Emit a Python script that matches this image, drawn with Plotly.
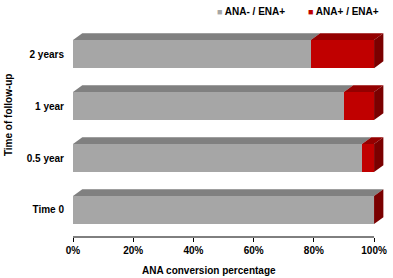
import plotly.graph_objects as go

# ---- data ----
categories = ["Time 0", "0.5 year", "1 year", "2 years"]
ana_neg_ena_pos = [100, 96, 90, 79]   # ANA- / ENA+ (%)
ana_pos_ena_pos = [0, 4, 10, 21]      # ANA+ / ENA+ (%)
series_names = ["ANA- / ENA+", "ANA+ / ENA+"]
x_tick_vals = [0, 20, 40, 60, 80, 100]
x_tick_text = ["0%", "20%", "40%", "60%", "80%", "100%"]

# ---- styling ----
front_colors = ["#A6A6A6", "#C00000"]
top_colors = ["#808080", "#940000"]
side_color = "#7A0000"
bar_h = 0.54      # bar thickness (y units)
dx = 3.09         # 3D depth in x units
dy = 0.13         # 3D depth in y units
FONT = "Liberation Sans, Arial, sans-serif"

positions = list(range(len(categories)))
series = [ana_neg_ena_pos, ana_pos_ena_pos]

fig = go.Figure()

# top faces (parallelograms) built from the data
cum = [0] * len(categories)
for s, vals in enumerate(series):
    xs, ys = [], []
    for i, v in enumerate(vals):
        x0 = cum[i]
        x1 = cum[i] + v
        yt = positions[i] + bar_h / 2
        xs += [x0, x1, x1 + dx, x0 + dx, x0, None]
        ys += [yt, yt, yt + dy, yt + dy, yt, None]
    fig.add_trace(go.Scatter(x=xs, y=ys, mode="lines", fill="toself",
                             fillcolor=top_colors[s], line=dict(width=0),
                             hoverinfo="skip", showlegend=False))
    cum = [c + v for c, v in zip(cum, vals)]

# right side faces
xs, ys = [], []
for i, tot in enumerate(cum):
    yb = positions[i] - bar_h / 2
    yt = positions[i] + bar_h / 2
    xs += [tot, tot + dx, tot + dx, tot, tot, None]
    ys += [yb, yb + dy, yt + dy, yt, yb, None]
fig.add_trace(go.Scatter(x=xs, y=ys, mode="lines", fill="toself",
                         fillcolor=side_color, line=dict(width=0),
                         hoverinfo="skip", showlegend=False))

# front faces
for s, vals in enumerate(series):
    fig.add_trace(go.Bar(y=positions, x=vals, orientation="h", width=bar_h,
                         name=series_names[s], marker=dict(color=front_colors[s], line=dict(width=0)),
                         showlegend=False))

# x axis line (only 0–100%)
fig.add_shape(type="line", xref="x", yref="paper", x0=0, x1=100, y0=0, y1=0,
              line=dict(color="#000000", width=1))

# legend as annotations
legend_x = [0.4566, 0.749]
for s, name in enumerate(series_names):
    fig.add_annotation(xref="paper", yref="paper", x=legend_x[s], y=1.066,
                       xanchor="left", yanchor="middle", showarrow=False,
                       text=f"<span style='color:{front_colors[s]};font-size:9px'>■</span> {name}",
                       font=dict(family=FONT, size=10, color="#000000", weight="bold"))

# axis titles
fig.add_annotation(xref="paper", yref="paper", x=-0.209, y=0.575, textangle=-90,
                   xanchor="center", yanchor="middle", showarrow=False,
                   text="Time of follow-up",
                   font=dict(family=FONT, size=10, color="#000000", weight="bold"))
fig.add_annotation(xref="paper", yref="paper", x=0.437, y=-0.160,
                   xanchor="center", yanchor="middle", showarrow=False,
                   text="ANA conversion percentage",
                   font=dict(family=FONT, size=10, color="#000000", weight="bold"))

fig.update_layout(
    width=393, height=278,
    margin=dict(l=73, r=9, t=25, b=41),
    barmode="stack",
    plot_bgcolor="white", paper_bgcolor="white",
    font=dict(family=FONT, size=10, color="#000000", weight="bold"),
    showlegend=False,
)
fig.update_xaxes(range=[0, 103.3], tickvals=x_tick_vals, ticktext=x_tick_text,
                 ticks="outside", ticklen=4, tickcolor="#000000",
                 showline=False, showgrid=False, zeroline=False, automargin=False,
                 fixedrange=True)
fig.update_yaxes(range=[-0.52, 3.56], tickvals=positions, ticktext=categories,
                 ticks="", ticklabelstandoff=8, automargin=False,
                 showline=False, showgrid=False, zeroline=False, fixedrange=True)

fig.write_html("out.html", post_script="document.body.style.margin='0px';",
               config={"displayModeBar": False})
